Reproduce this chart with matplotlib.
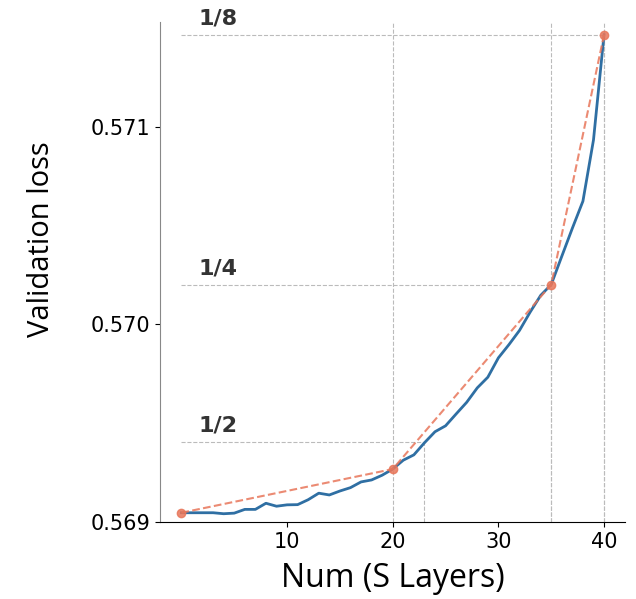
import matplotlib.pyplot as plt

layers = list(range(0, 41))
val_loss = [0.569047, 0.569047, 0.569047, 0.569047, 0.569042, 0.569045, 0.569064, 0.569064,
            0.569095, 0.569080, 0.569087, 0.569088, 0.569113, 0.569146, 0.569137, 0.569157,
            0.569174, 0.569203, 0.569213, 0.569237, 0.569268, 0.569313, 0.569340, 0.569401,
            0.569457, 0.569487, 0.569547, 0.569606, 0.569679, 0.569733, 0.569831, 0.569898,
            0.569970, 0.570062, 0.570147, 0.570202, 0.570345, 0.570487, 0.570624, 0.570934,
            0.571467]

ratio_x = [0, 20, 35, 40]
ratio_y = [0.569047, 0.569268, 0.570202, 0.571467]

levels = ['1/2', '1/4', '1/8']
level_y = [0.569406, 0.570202, 0.571467]
level_x = [23, 35, 40]

fig = plt.figure(figsize=(6.36, 5.99), dpi=100)
ax = fig.add_axes([0.252, 0.1285, 0.731, 0.8345])

grid_kw = dict(color='#bbbbbb', linestyle='--', linewidth=0.8, zorder=0)
for xv in [20, 35, 40]:
    ax.axvline(xv, **grid_kw)
for lab, yv, xv in zip(levels, level_y, level_x):
    ax.hlines(yv, 0, xv, **grid_kw)
    ax.vlines(xv, 0.569, yv, **grid_kw)
    ax.text(1.6, yv + 0.00003, lab, fontsize=16, fontweight='bold', color='#333333',
            va='bottom', ha='left')

ax.plot(layers, val_loss, color='#2f6fa3', linewidth=2, zorder=3)
ax.plot(ratio_x, ratio_y, color='#e8765a', linestyle='--', linewidth=1.5,
        marker='o', markersize=6, alpha=0.85, zorder=4)

ax.set_xlim(-2, 42)
ax.set_ylim(0.569, 0.57153)
ax.set_xticks([10, 20, 30, 40])
ax.set_yticks([0.569, 0.570, 0.571])
ax.tick_params(labelsize=15)
ax.spines['top'].set_visible(False)
ax.spines['right'].set_visible(False)
ax.spines['left'].set_color('#888888')

ax.set_xlabel('Num (S Layers)', fontsize=23, family='Open Sans')
ax.set_ylabel('Validation loss', fontsize=21, family='Open Sans')
ax.xaxis.set_label_coords(0.5, -0.08)
ax.yaxis.set_label_coords(-0.225, 0.565)

fig.savefig('out.png')
